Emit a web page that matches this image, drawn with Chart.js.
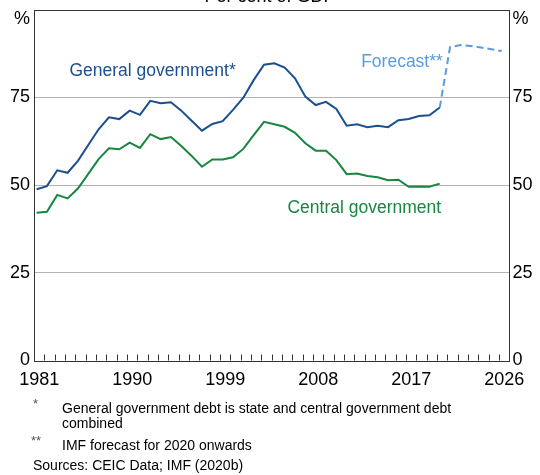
<!DOCTYPE html>
<html><head><meta charset="utf-8">
<script src="https://cdn.jsdelivr.net/npm/chart.js@4.4.1/dist/chart.umd.min.js"></script>
<style>
html,body{margin:0;padding:0;background:#fff;}
body{width:540px;height:475px;position:relative;overflow:hidden;font-family:"Liberation Sans",Arial,sans-serif;}
#c{position:absolute;left:0;top:-20px;}
.fn{position:absolute;font-size:14px;line-height:16px;color:#000;white-space:nowrap;}
.ast{position:absolute;font-size:13px;line-height:16px;color:#555;white-space:nowrap;}
</style></head><body>
<canvas id="c" width="540" height="420"></canvas>
<div class="ast" style="left:33px;top:396px;">*</div>
<div class="fn" style="left:62px;top:400px;">General government debt is state and central government debt</div>
<div class="fn" style="left:62px;top:415px;">combined</div>
<div class="ast" style="left:31px;top:433px;">**</div>
<div class="fn" style="left:62px;top:437px;">IMF forecast for 2020 onwards</div>
<div class="fn" style="left:33px;top:457px;">Sources: CEIC Data; IMF (2020b)</div>
<script>
// ---- data ----
const fiscalYears = [1981,1982,1983,1984,1985,1986,1987,1988,1989,1990,
  1991,1992,1993,1994,1995,1996,1997,1998,1999,2000,
  2001,2002,2003,2004,2005,2006,2007,2008,2009,2010,
  2011,2012,2013,2014,2015,2016,2017,2018,2019,2020];
const generalGov = [48.8,49.7,54.2,53.5,56.9,61.4,65.9,69.3,68.8,71.2,
  70.0,74.0,73.3,73.6,71.2,68.3,65.5,67.4,68.2,71.4,
  74.9,79.9,84.3,84.7,83.5,80.4,75.2,72.8,73.7,71.7,
  66.9,67.3,66.5,66.9,66.5,68.5,68.8,69.7,69.9,72.1];
const centralGov = [42.1,42.4,47.2,46.2,49.0,53.2,57.4,60.5,60.2,62.1,
  60.6,64.5,63.1,63.7,61.1,58.3,55.2,57.3,57.3,57.9,
  60.3,64.2,68.0,67.3,66.6,64.9,61.9,59.8,59.8,57.1,
  53.1,53.3,52.6,52.2,51.4,51.5,49.5,49.6,49.5,50.4];
const forecastYears = [2020,2021,2022,2023,2024,2025,2026];
const forecastGeneral = [72.1,89.3,89.9,89.6,89.2,88.7,88.2];
const xLabelYears = [1981,1990,1999,2008,2017,2026];
const yTickValues = [0,25,50,75];
const xMin = 1981, xMax = 2027, yMin = 0, yMax = 100;

const BLUE = '#1b4f8d', GREEN = '#17873f', FCAST = '#5b9be0';
const FONT = '"Liberation Sans", Arial, sans-serif';
// fiscal years end in March
const pos = y => y + 0.25;

const decor = {
  id: 'decor',
  afterDraw(chart) {
    const ctx = chart.ctx, a = chart.chartArea;
    const xs = chart.scales.x, ys = chart.scales.y;
    ctx.save();
    // border box
    ctx.strokeStyle = '#333'; ctx.lineWidth = 1;
    ctx.strokeRect(Math.round(a.left) + 0.5, Math.round(a.top) + 0.5,
      Math.round(a.right - a.left) - 1, Math.round(a.bottom - a.top));
    // inward year tick marks
    ctx.beginPath();
    for (let yr = xMin + 1; yr < xMax; yr++) {
      const px = Math.round(xs.getPixelForValue(yr)) + 0.5;
      ctx.moveTo(px, a.bottom);
      ctx.lineTo(px, a.bottom - 6);
    }
    ctx.stroke();
    // % unit labels
    ctx.fillStyle = '#000';
    ctx.font = '18px ' + FONT;
    ctx.textBaseline = 'middle';
    const py = ys.getPixelForValue(97.3);
    ctx.textAlign = 'right'; ctx.fillText('%', a.left - 4, py);
    ctx.textAlign = 'left'; ctx.fillText('%', a.right + 3, py);
    // series labels
    ctx.font = '17.5px ' + FONT;
    ctx.textAlign = 'center';
    ctx.fillStyle = BLUE;
    ctx.fillText('General government*', xs.getPixelForValue(1992.47), ys.getPixelForValue(82.5));
    ctx.fillStyle = FCAST;
    ctx.fillText('Forecast**', xs.getPixelForValue(2016.6), ys.getPixelForValue(85.0));
    ctx.fillStyle = GREEN;
    ctx.fillText('Central government', xs.getPixelForValue(2012.95), ys.getPixelForValue(43.4));
    ctx.restore();
  }
};

new Chart(document.getElementById('c'), {
  type: 'line',
  data: {
    datasets: [
      { data: fiscalYears.map((y, i) => ({x: pos(y), y: generalGov[i]})),
        borderColor: BLUE, borderWidth: 2, pointRadius: 0, tension: 0, fill: false },
      { data: fiscalYears.map((y, i) => ({x: pos(y), y: centralGov[i]})),
        borderColor: GREEN, borderWidth: 2, pointRadius: 0, tension: 0, fill: false },
      { data: forecastYears.map((y, i) => ({x: pos(y), y: forecastGeneral[i]})),
        borderColor: FCAST, borderWidth: 2, borderDash: [7, 4], pointRadius: 0, tension: 0, fill: false }
    ]
  },
  options: {
    responsive: false,
    devicePixelRatio: 1,
    animation: false,
    layout: { padding: 0 },
    plugins: {
      legend: { display: false },
      tooltip: { enabled: false },
      title: { display: true, text: 'Per cent of GDP', color: '#000',
        font: { family: FONT, size: 18, weight: 'normal' }, padding: { top: 6, bottom: 2 } }
    },
    scales: {
      x: {
        type: 'linear', min: xMin, max: xMax,
        afterBuildTicks: s => { s.ticks = xLabelYears.map(v => ({ value: v + 0.5 })); },
        afterFit: s => { s.height = 39.5; },
        grid: { display: false, drawTicks: false },
        border: { display: false },
        ticks: { autoSkip: false, maxRotation: 0, padding: 9, color: '#000',
          font: { family: FONT, size: 18 },
          callback: v => String(Math.floor(v)) }
      },
      y: {
        type: 'linear', position: 'left', min: yMin, max: yMax,
        afterBuildTicks: s => { s.ticks = yTickValues.map(v => ({ value: v })); },
        afterFit: s => { s.width = 34; },
        grid: { drawTicks: false, lineWidth: 1,
          color: c => (c.tick && c.tick.value > 0 && c.tick.value < 100) ? '#b3b3b3' : 'rgba(0,0,0,0)' },
        border: { display: false },
        ticks: { padding: 4, color: '#000', font: { family: FONT, size: 18 } }
      },
      y2: {
        type: 'linear', position: 'right', min: yMin, max: yMax,
        afterBuildTicks: s => { s.ticks = yTickValues.map(v => ({ value: v })); },
        afterFit: s => { s.width = 30.5; },
        grid: { display: false, drawTicks: false },
        border: { display: false },
        ticks: { padding: 3, color: '#000', font: { family: FONT, size: 18 } }
      }
    }
  },
  plugins: [decor]
});
</script>
</body></html>
